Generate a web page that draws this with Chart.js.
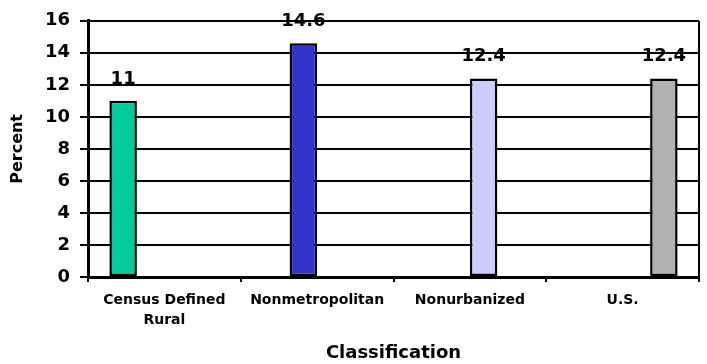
<!DOCTYPE html>
<html>
<head>
<meta charset="utf-8">
<script src="https://cdn.jsdelivr.net/npm/chart.js@4/dist/chart.umd.min.js"></script>
<style>
  html, body { margin: 0; padding: 0; background: #fff; }
  #wrap { width: 707px; height: 364px; }
</style>
</head>
<body>
<div id="wrap"><canvas id="rateChart"></canvas></div>
<script>
// ─── Data ───
const categories = [['Census Defined', 'Rural'], 'Nonmetropolitan', 'Nonurbanized', 'U.S.'];
const percents = [11, 14.6, 12.4, 12.4];
const barColors = ['#00CC99', '#3333CC', '#CCCCFF', '#B2B2B2'];
const yTicks = [0, 2, 4, 6, 8, 10, 12, 14, 16];

const FONT = "'DejaVu Sans', Verdana, sans-serif";

// one series per classification, so each bar sits in its own slot of the group
const datasets = percents.map((v, i) => ({
    label: typeof categories[i] === 'string' ? categories[i] : categories[i].join(' '),
    data: categories.map((_, j) => (j === i ? v : null)),
    backgroundColor: barColors[i],
    borderColor: '#000',
    borderWidth: 2.5,
    borderSkipped: false,
    categoryPercentage: 0.72,
    barPercentage: 1.0
}));

// value text above each bar
const valueLabels = {
    id: 'valueLabels',
    afterDatasetsDraw(chart) {
        const { ctx } = chart;
        ctx.save();
        ctx.font = `bold 18px ${FONT}`;
        ctx.fillStyle = '#000';
        ctx.textAlign = 'center';
        ctx.textBaseline = 'alphabetic';
        chart.data.datasets.forEach((ds, i) => {
            chart.getDatasetMeta(i).data.forEach((bar, j) => {
                if (ds.data[j] == null) return;
                ctx.fillText(String(ds.data[j]), bar.x, bar.y - 17);
            });
        });
        ctx.restore();
    }
};

// right-hand frame line of the plot
const frame = {
    id: 'frame',
    beforeDatasetsDraw(chart) {
        const { ctx, chartArea: a } = chart;
        ctx.save();
        ctx.strokeStyle = '#000';
        ctx.lineWidth = 2;
        ctx.beginPath();
        ctx.moveTo(a.right, a.top);
        ctx.lineTo(a.right, a.bottom);
        ctx.stroke();
        ctx.restore();
    }
};

new Chart(document.getElementById('rateChart'), {
    type: 'bar',
    data: { labels: categories, datasets: datasets },
    plugins: [valueLabels, frame],
    options: {
        responsive: true,
        maintainAspectRatio: false,
        animation: false,
        layout: { padding: { top: 18, right: 8, left: 0, bottom: 0 } },
        plugins: {
            legend: { display: false },
            tooltip: { enabled: false }
        },
        scales: {
            x: {
                afterFit(axis) { axis.height = 87; },
                grid: {
                    offset: true,
                    drawOnChartArea: false,
                    drawTicks: true,
                    tickLength: 5,
                    color: '#000',
                    lineWidth: 2
                },
                border: { color: '#000', width: 3 },
                ticks: {
                    color: '#000',
                    maxRotation: 0,
                    autoSkip: false,
                    padding: 8,
                    font: { family: FONT, size: 14, weight: 'bold', lineHeight: 1.43 }
                },
                title: {
                    display: true,
                    text: 'Classification',
                    color: '#000',
                    padding: { top: 0, bottom: 0 },
                    font: { family: FONT, size: 18, weight: 'bold' }
                }
            },
            y: {
                min: 0,
                max: 16,
                afterFit(axis) { axis.width = 88; },
                afterBuildTicks(axis) {
                    axis.ticks = yTicks.map(v => ({ value: v }));
                },
                grid: {
                    color: '#000',
                    lineWidth: 2,
                    tickLength: 8
                },
                border: { color: '#000', width: 3 },
                ticks: {
                    color: '#000',
                    padding: 10,
                    font: { family: FONT, size: 18, weight: 'bold' }
                },
                title: {
                    display: true,
                    text: 'Percent',
                    color: '#000',
                    padding: { top: 8, bottom: 0 },
                    font: { family: FONT, size: 16, weight: 'bold' }
                }
            }
        }
    }
});
</script>
</body>
</html>
